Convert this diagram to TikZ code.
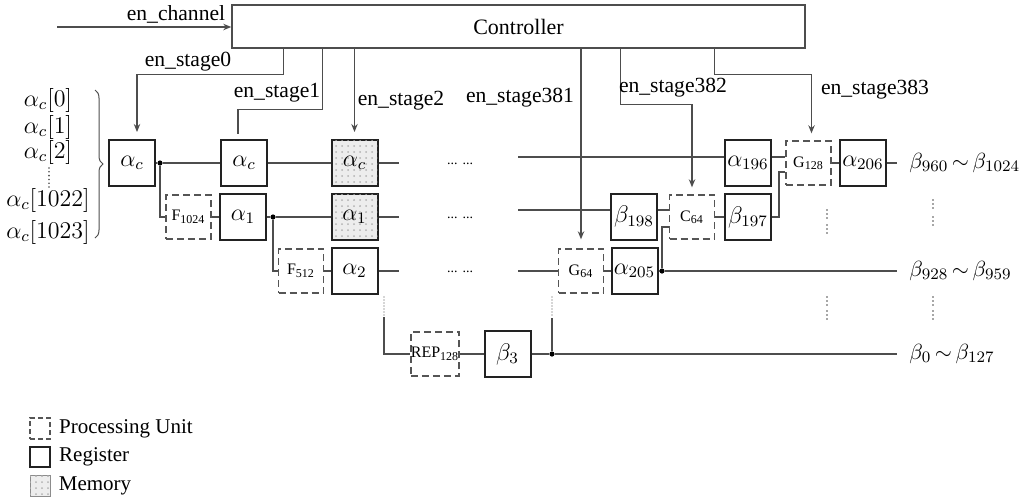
\documentclass[tikz,border=0pt]{standalone}
\usepackage{fontspec}
\setmainfont{Liberation Serif}
\usepackage{xcolor}
\definecolor{cLine}{HTML}{4D4D4D}
\definecolor{cBox}{HTML}{222222}
\definecolor{cDash}{HTML}{555555}
\usepackage{tikz}
\usetikzlibrary{positioning,arrows.meta,calc,patterns,decorations.pathreplacing}
\tikzset{
  node-reg/.style={draw=cBox,line width=1pt,minimum width=23pt,minimum height=23pt,
    inner sep=0pt,font=\fontsize{11.5}{13}\selectfont},
  node-mem/.style={node-reg,fill=black!7,postaction={pattern=dots,pattern color=black!30}},
  node-pu/.style={draw=cDash,line width=0.7pt,dash pattern=on 3.5pt off 2pt,
    minimum width=22.5pt,minimum height=22pt,inner sep=0pt,font=\fontsize{8}{9}\selectfont},
  node-ctrl/.style={draw=cLine,line width=0.7pt,minimum width=286.5pt,minimum height=21.5pt,
    inner sep=0pt,font=\fontsize{11}{13}\selectfont},
  node-label/.style={inner sep=1pt,font=\fontsize{10.8}{12}\selectfont},
  node-in/.style={inner sep=0pt,font=\fontsize{11.5}{12}\selectfont},
  node-out/.style={inner sep=0pt,font=\fontsize{10.8}{12}\selectfont},
  junction/.style={circle,fill=black,inner sep=0pt,minimum size=2.6pt},
  wire/.style={draw=cLine,line width=0.6pt},
  wire-en/.style={wire,-{Stealth[length=4pt,width=3.2pt]}},
  wire-dots/.style={draw=cLine,line width=0.7pt,line cap=round,dash pattern=on 0pt off 1.5pt},
  vgap/.style={draw=cLine,line width=0.9pt,line cap=round,dash pattern=on 0pt off 2pt},
  gap-dots/.style={inner sep=0pt,anchor=base,font=\fontsize{7}{7}\selectfont},
}

\begin{document}
\begin{tikzpicture}[x=0.5pt,y=-0.5pt]
  \useasboundingbox (0,0) rectangle (1023,500);

  % controller + enables
  \node[node-ctrl] (ctrl) at (518.5,26.5) {Controller};
  \coordinate (chin) at (57,27);
  \draw[wire-en] (chin) -- (ctrl.west |- chin);
  \node[node-label] (lch) at (176,14) {en\_channel};

  % row 1
  \node[node-reg] (ac1) at (132,163) {$\alpha_c$};
  \node[node-reg] (ac2) at (244,163) {$\alpha_c$};
  \node[node-mem] (ac3) at (354.5,163) {$\alpha_c$};
  \node[node-reg] (a196) at (748,163) {$\alpha_{196}$};
  \node[node-pu]  (g128) at (808.5,163) {G\textsubscript{128}};
  \node[node-reg] (a206) at (863,163) {$\alpha_{206}$};
  % row 2
  \node[node-pu]  (f1024) at (188.5,217) {F\textsubscript{1024}};
  \node[node-reg] (a1) at (243,217) {$\alpha_1$};
  \node[node-mem] (a1m) at (354.5,217) {$\alpha_1$};
  \node[node-reg] (b198) at (634,216.5) {$\beta_{198}$};
  \node[node-pu]  (c64) at (692,217) {C\textsubscript{64}};
  \node[node-reg] (b197) at (748,217) {$\beta_{197}$};
  % row 3
  \node[node-pu]  (f512) at (301,271) {F\textsubscript{512}};
  \node[node-reg] (a2) at (354.5,271) {$\alpha_2$};
  \node[node-pu]  (g64) at (581,271) {G\textsubscript{64}};
  \node[node-reg] (a205) at (634.5,271) {$\alpha_{205}$};
  % row 4
  \node[node-pu,minimum width=24pt] (rep) at (435,354) {REP\textsubscript{128}};
  \node[node-reg] (b3) at (507.5,354) {$\beta_3$};

  \node[junction] (j1) at (160,163) {};
  \node[junction] (j2) at (273,217) {};
  \node[junction] (j3) at (662,271) {};
  \node[junction] (j4) at (552,354) {};

  \coordinate (r1a) at (399,163);  \coordinate (r1b) at (518,157);
  \coordinate (r2a) at (399,217);  \coordinate (r2b) at (518,210);
  \coordinate (r3a) at (399,271);  \coordinate (r3b) at (518,271);
  \coordinate (o1) at (897,163);
  \coordinate (o3) at (897,271);
  \coordinate (o4) at (897,354);

  \node[gap-dots] (e1) at (460,164) {...\hspace{2.5pt}...};
  \node[gap-dots] (e2) at (460,218) {...\hspace{2.5pt}...};
  \node[gap-dots] (e3) at (460,272) {...\hspace{2.5pt}...};

  % data path
  \draw[wire] (ac1) -- (j1) -- (ac2) -- (ac3) -- (r1a);
  \draw[wire] (r1b) -- (r1b -| a196.west);
  \draw[wire] ([yshift=3pt]a196.east) -- ([yshift=3pt]g128.west);
  \draw[wire] (g128) -- (a206) -- (o1);
  \draw[wire] (j1) |- (f1024);
  \draw[wire] (f1024) -- (a1) -- (j2) -- (a1m) -- (r2a);
  \draw[wire] (r2b) -- (r2b -| b198.west);
  \draw[wire] (b198.east |- r2b) -- (c64.west |- r2b);
  \draw[wire] (c64) -- (b197);
  \draw[wire] (b197.east) -- ++(7,0) |- ([yshift=-4.5pt]g128.west);
  \draw[wire] (j2) |- (f512);
  \draw[wire] (f512) -- (a2) -- (r3a);
  \draw[wire] (r3b) -- (g64) -- (a205) -- (j3) -- (o3);
  \draw[wire] (j3) |- ([yshift=-5pt]c64.west);
  \coordinate (d1a) at (384,297);  \coordinate (d1b) at (384,317);
  \coordinate (d2a) at (552,297);  \coordinate (d2b) at (552,318);
  \draw[wire-dots] (d1a) -- (d1b);
  \draw[wire] (d1b) |- (rep);
  \draw[wire] (rep) -- (b3) -- (j4) -- (o4);
  \draw[wire-dots] (d2a) -- (d2b);
  \draw[wire] (d2b) -- (j4);

  % enables
  \draw[wire-en] ($(ctrl.south west)+(52,0)$) -- ++(0,26) -| ([xshift=2.5pt,yshift=3.5pt]ac1.north);
  \draw[wire] ($(ctrl.south west)+(91,0)$) -- ++(0,61) -| ([xshift=-3pt,yshift=2.5pt]ac2.north);
  \draw[wire-en] (ac3.north |- ctrl.south) -- ([yshift=3.5pt]ac3.north);
  \draw[wire-en] (g64.north |- ctrl.south) -- ([yshift=4.5pt]g64.north);
  \draw[wire-en] ($(ctrl.south west)+(389,0)$) -- ++(0,56) -| ([yshift=3.5pt]c64.north);
  \draw[wire-en] ($(ctrl.south west)+(483,0)$) -- ++(0,26) -| ([xshift=1.5pt,yshift=3.5pt]g128.north);
  \node[node-label] (l0) at (188,62) {en\_stage0};
  \node[node-label] (l1) at (277,93) {en\_stage1};
  \node[node-label] (l2) at (401,101) {en\_stage2};
  \node[node-label] (l381) at (520,98) {en\_stage381};
  \node[node-label] (l382) at (673,88) {en\_stage382};
  \node[node-label] (l383) at (875,90) {en\_stage383};

  % outputs
  \node[node-out,right=6pt of o1] (y1) {$\beta_{960}\,{\sim}\,\beta_{1024}$};
  \node[node-out,right=6pt of o3] (y3) {$\beta_{928}\,{\sim}\,\beta_{959}$};
  \node[node-out,right=6pt of o4] (y4) {$\beta_{0}\,{\sim}\,\beta_{127}$};
  \foreach \x/\ya/\yb in {827/210/235, 933/200/227} {
    \draw[vgap] (\x,\ya) -- ++(0,10);
    \draw[vgap] (\x,\yb-10) -- (\x,\yb);
    \draw[vgap] (\x,297) -- ++(0,10);
    \draw[vgap] (\x,311) -- ++(0,10);
  }

  % inputs
  \foreach \i/\y in {0/100,1/127,2/152,1022/200,1023/232}
    \node[node-in] (in\i) at (48,\y) {$\alpha_c[\i]$};
  \draw[vgap,dash pattern=on 0pt off 1.9pt] (49,168) -- (49,187);
  \draw[draw=cLine,line width=0.5pt,decorate,decoration={brace,amplitude=4pt}] (95,90) -- (95,238);

  % legend
  \node[node-pu,minimum width=10pt,minimum height=10.5pt,dash pattern=on 2.5pt off 1.5pt] (k1) at (40,428.5) {};
  \node[node-reg,minimum width=10pt,minimum height=10pt,line width=0.8pt] (k2) at (40,457) {};
  \node[node-mem,minimum width=10pt,minimum height=10.5pt,draw=black!45,line width=0.5pt] (k3) at (40,485.5) {};
  \node[node-label,font=\fontsize{10.5}{12}\selectfont,right=3pt of k1] (t1) {Processing Unit};
  \node[node-label,font=\fontsize{10.5}{12}\selectfont,right=3pt of k2] (t2) {Register};
  \node[node-label,font=\fontsize{10.5}{12}\selectfont,right=3pt of k3] (t3) {Memory};
\end{tikzpicture}
\end{document}
